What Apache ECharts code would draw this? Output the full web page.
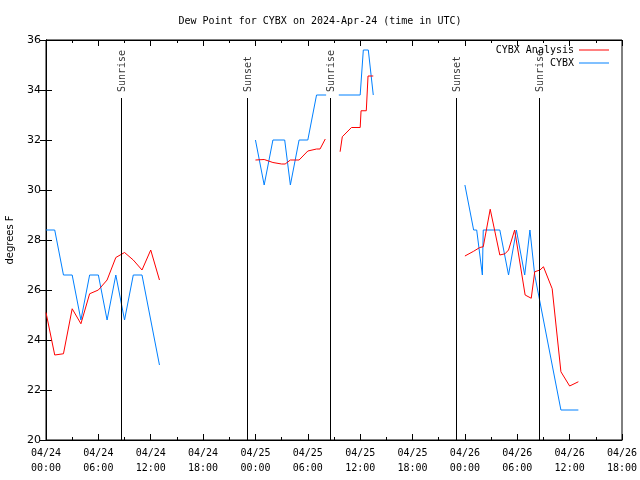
<!DOCTYPE html>
<html><head><meta charset="utf-8">
<script src="https://cdn.jsdelivr.net/npm/echarts@6/dist/echarts.min.js"></script>
<style>html,body{margin:0;padding:0;background:#fff}#c{width:640px;height:480px}</style>
</head><body><div id="c"></div>
<script>
// hours since 2024-04-24 00:00 UTC
const xTickLabels = ['04/24\n00:00','04/24\n06:00','04/24\n12:00','04/24\n18:00',
  '04/25\n00:00','04/25\n06:00','04/25\n12:00','04/25\n18:00',
  '04/26\n00:00','04/26\n06:00','04/26\n12:00','04/26\n18:00'];

const analysisHours = [0,1,2,3,4,5,6,7,8,9,10,11,12,13, 18,
  24,25,26,27,27.4,28,29,30,31,31.4,32, 33,
  33.7,33.95,35,36,36.1,36.7,36.9,37.5, 42,
  48,49,49.7,50.1,50.9,52,52.6,53,53.7,54.9,55.6,56,56.6,57,58,59,60,61];
const analysisValues = [25.1,23.4,23.45,25.25,24.65,25.85,26.0,26.4,27.3,27.5,27.2,26.8,27.6,26.4, null,
  31.2,31.22,31.1,31.04,31.04,31.2,31.2,31.56,31.64,31.64,32.04, null,
  31.53,32.13,32.5,32.5,33.17,33.17,34.56,34.56, null,
  27.36,27.55,27.7,27.73,29.23,27.4,27.45,27.6,28.4,25.8,25.67,26.73,26.8,26.93,26.05,22.73,22.16,22.33];

const obsHours = [0,1,2,3,4,5,6,7,8,9,10,11,12,13, 18,
  24,25,26,27.35,28,29,30,31,32.1, 33,
  33.55,36,36.36,36.93,37.5, 42,
  48,49,49.35,50,50.1,52,53,53.9,54.85,55.45,56,57,58,59,61];
const obsValues = [28.4,28.4,26.6,26.6,24.8,26.6,26.6,24.8,26.6,24.8,26.6,26.6,24.8,23.0, null,
  32.0,30.2,32.0,32.0,30.2,32.0,32.0,33.8,33.8, null,
  33.8,33.8,35.6,35.6,33.8, null,
  30.2,28.4,28.4,26.6,28.4,28.4,26.6,28.4,26.6,28.4,26.6,24.8,23.0,21.2,21.2];

const sunHours = [8.59, 23.03, 32.54, 46.98, 56.49];
const sunNames = ['Sunrise','Sunset','Sunrise','Sunset','Sunrise'];

const pair = (xs, ys) => xs.map((x, i) => [x, ys[i] === null ? '-' : ys[i]]);
const MONO = 'DejaVu Sans Mono';
const SANS = 'DejaVu Sans';

const chart = echarts.init(document.getElementById('c'), null, {renderer: 'canvas'});
const tickCommon = {show: true, inside: true, length: 6, lineStyle: {color: '#000'}};
chart.setOption({
  animation: false,
  backgroundColor: '#fff',
  title: {text: 'Dew Point for CYBX on 2024-Apr-24 (time in UTC)', left: 'center', top: 11,
    textStyle: {fontFamily: MONO, fontSize: 10, fontWeight: 'normal', color: '#000'}},
  legend: {data: ['CYBX Analysis', 'CYBX'], orient: 'vertical', align: 'right', right: 26, top: 39,
    icon: 'rect', itemWidth: 30, itemHeight: 1, itemGap: 1,
    textStyle: {fontFamily: MONO, fontSize: 10, color: '#000', lineHeight: 12}},
  grid: {left: 46, right: 18, top: 40, bottom: 40, show: true, borderColor: '#000', borderWidth: 1,
    containLabel: false, outerBoundsMode: 'none'},
  xAxis: [{
    type: 'value', min: 0, max: 66, interval: 6, position: 'bottom',
    axisLine: {show: true, lineStyle: {color: '#000'}},
    axisTick: tickCommon,
    minorTick: {show: true, splitNumber: 2, length: 3, lineStyle: {color: '#000'}},
    splitLine: {show: false},
    axisLabel: {formatter: v => xTickLabels[Math.round(v / 6)], fontFamily: MONO, fontSize: 10,
      color: '#000', lineHeight: 15, margin: 6}
  }, {
    type: 'value', min: 0, max: 66, interval: 6, position: 'top',
    axisLine: {show: true, lineStyle: {color: '#000'}},
    axisTick: tickCommon,
    minorTick: {show: true, splitNumber: 2, length: 3, lineStyle: {color: '#000'}},
    splitLine: {show: false}, axisLabel: {show: false}
  }],
  yAxis: [{
    type: 'value', min: 20, max: 36, interval: 2, position: 'left',
    axisLine: {show: true, lineStyle: {color: '#000'}},
    axisTick: tickCommon, splitLine: {show: false},
    axisLabel: {fontFamily: SANS, fontSize: 11, color: '#000', margin: 5},
    name: 'degrees F', nameLocation: 'middle', nameGap: 31,
    nameTextStyle: {fontFamily: SANS, fontSize: 10, color: '#000'}
  }, {
    type: 'value', min: 20, max: 36, interval: 2, position: 'right',
    axisLine: {show: true, lineStyle: {color: '#000'}},
    axisTick: tickCommon, splitLine: {show: false}, axisLabel: {show: false}
  }],
  series: [{
    name: 'CYBX Analysis', type: 'line', data: pair(analysisHours, analysisValues),
    showSymbol: false, symbol: 'none', connectNulls: false,
    lineStyle: {color: '#ff0000', width: 1}, itemStyle: {color: '#ff0000'}, z: 3
  }, {
    name: 'CYBX', type: 'line', data: pair(obsHours, obsValues),
    showSymbol: false, symbol: 'none', connectNulls: false,
    lineStyle: {color: '#0080ff', width: 1}, itemStyle: {color: '#0080ff'}, z: 2
  }, {
    name: 'sun', type: 'scatter', symbolSize: 0, silent: true,
    data: sunHours.map(h => [h, 33.92]),
    label: {show: true, position: 'inside', formatter: p => sunNames[p.dataIndex], rotate: 90,
      align: 'left', verticalAlign: 'middle', offset: [0, 1], fontFamily: MONO, fontSize: 10, color: '#000'},
    markLine: {silent: true, symbol: 'none', animation: false,
      lineStyle: {color: '#000', width: 1, type: 'solid'}, label: {show: false},
      data: sunHours.map(h => [{coord: [h, 20]}, {coord: [h, 33.68]}])}
  }]
});
</script></body></html>
